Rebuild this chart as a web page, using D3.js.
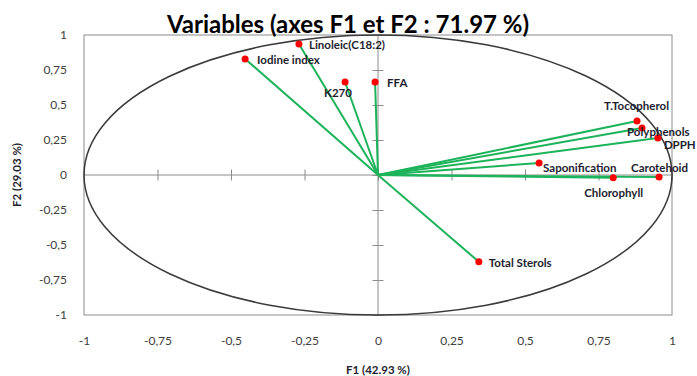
<!DOCTYPE html>
<html>
<head>
<meta charset="utf-8">
<script src="https://cdn.jsdelivr.net/npm/d3@7"></script>
<style>
  body { margin: 0; background: #fff; }
  text { font-family: Lato, "Open Sans", sans-serif; }
</style>
</head>
<body>
<svg id="chart" width="697" height="376"></svg>
<script>
const variables = ["Linoleic(C18:2)", "Iodine index", "K270", "FFA", "T.Tocopherol", "Polyphenols",
                   "DPPH", "Saponification", "Carotehoid", "Chlorophyll", "Total Sterols"];
const f1 = [-0.269, -0.452, -0.112, -0.010, 0.881, 0.898, 0.952, 0.548, 0.956, 0.800, 0.343];
const f2 = [0.936, 0.829, 0.664, 0.664, 0.386, 0.336, 0.264, 0.086, -0.014, -0.020, -0.620];
const tickValues = [-1, -0.75, -0.5, -0.25, 0, 0.25, 0.5, 0.75, 1];

const title = "Variables (axes F1 et F2 : 71.97 %)";
const xTitle = "F1 (42.93 %)";
const yTitle = "F2 (29.03 %)";

const svg = d3.select("#chart");

const x = d3.scaleLinear().domain([-1, 1]).range([84, 672]);
const y = d3.scaleLinear().domain([-1, 1]).range([315, 35]);

const fmt = d => String(d).replace(".", ",");

// plot box
svg.append("rect")
  .attr("x", x(-1)).attr("y", y(1))
  .attr("width", x(1) - x(-1)).attr("height", y(-1) - y(1))
  .attr("fill", "none").attr("stroke", "#8c8c8c").attr("stroke-width", 1);

// zero lines
svg.append("line")
  .attr("x1", x(-1)).attr("x2", x(1)).attr("y1", y(0)).attr("y2", y(0))
  .attr("stroke", "#8c8c8c");
svg.append("line")
  .attr("x1", x(0)).attr("x2", x(0)).attr("y1", y(1)).attr("y2", y(-1))
  .attr("stroke", "#8c8c8c");

// cross ticks on the zero lines
const innerY = svg.append("g")
  .attr("transform", `translate(${x(0) + 5.5},0)`)
  .call(d3.axisLeft(y).tickValues(tickValues).tickSize(11).tickFormat(""));
innerY.select(".domain").remove();
innerY.selectAll("line").attr("stroke", "#8c8c8c");

const innerX = svg.append("g")
  .attr("transform", `translate(0,${y(0) - 5.5})`)
  .call(d3.axisBottom(x).tickValues(tickValues).tickSize(11).tickFormat(""));
innerX.select(".domain").remove();
innerX.selectAll("line").attr("stroke", "#8c8c8c");

// outer tick labels
const yAxis = svg.append("g")
  .attr("transform", `translate(${x(-1) - 14},0)`)
  .call(d3.axisLeft(y).tickValues(tickValues).tickSize(0).tickFormat(fmt));
yAxis.select(".domain").remove();
yAxis.selectAll("text").attr("font-size", 12).attr("fill", "#404040")
  .style("font-family", "Lato, sans-serif");

const xAxis = svg.append("g")
  .attr("transform", `translate(0,${y(-1) + 18})`)
  .call(d3.axisBottom(x).tickValues(tickValues).tickSize(0).tickFormat(fmt));
xAxis.select(".domain").remove();
xAxis.selectAll("text").attr("font-size", 12).attr("fill", "#404040")
  .style("font-family", "Lato, sans-serif");

// correlation circle
svg.append("ellipse")
  .attr("cx", x(0)).attr("cy", y(0))
  .attr("rx", x(1) - x(0)).attr("ry", y(0) - y(1))
  .attr("fill", "none").attr("stroke", "#3a3a3a").attr("stroke-width", 1.5);

const pts = variables.map((name, i) => ({ name, f1: f1[i], f2: f2[i] }));

// vectors
svg.selectAll(".vec")
  .data(pts)
  .join("line")
  .attr("class", "vec")
  .attr("x1", x(0)).attr("y1", y(0))
  .attr("x2", d => x(d.f1)).attr("y2", d => y(d.f2))
  .attr("stroke", "#1db35a").attr("stroke-width", 2);

svg.selectAll(".dot")
  .data(pts)
  .join("circle")
  .attr("class", "dot")
  .attr("cx", d => x(d.f1)).attr("cy", d => y(d.f2))
  .attr("r", 3.5)
  .attr("fill", "#ff0000");

// label placement, pixels from the point
const labelShift = {
  "Linoleic(C18:2)": [10, 5],
  "Iodine index": [12, 5],
  "K270": [-21, 15],
  "FFA": [12, 5],
  "T.Tocopherol": [-33, -11],
  "Polyphenols": [-15, 8],
  "DPPH": [6, 11],
  "Saponification": [4, 9],
  "Carotehoid": [-28, -5],
  "Chlorophyll": [-29, 19],
  "Total Sterols": [10, 5]
};

svg.selectAll(".lbl")
  .data(pts)
  .join("text")
  .attr("class", "lbl")
  .attr("x", d => x(d.f1) + labelShift[d.name][0])
  .attr("y", d => y(d.f2) + labelShift[d.name][1])
  .attr("font-size", 11.5)
  .attr("font-weight", "bold")
  .attr("fill", "#1e1e2e")
  .text(d => d.name);

// titles
svg.append("text")
  .attr("x", 348).attr("y", 33)
  .attr("text-anchor", "middle")
  .attr("font-size", 24)
  .attr("font-weight", "bold")
  .attr("fill", "#000")
  .text(title);

svg.append("text")
  .attr("x", x(0)).attr("y", 374)
  .attr("text-anchor", "middle")
  .attr("font-size", 11.5)
  .attr("font-weight", "bold")
  .attr("fill", "#1e1e2e")
  .text(xTitle);

svg.append("text")
  .attr("transform", `translate(21,${y(0)}) rotate(-90)`)
  .attr("text-anchor", "middle")
  .attr("font-size", 11.5)
  .attr("font-weight", "bold")
  .attr("fill", "#1e1e2e")
  .text(yTitle);
</script>
</body>
</html>
